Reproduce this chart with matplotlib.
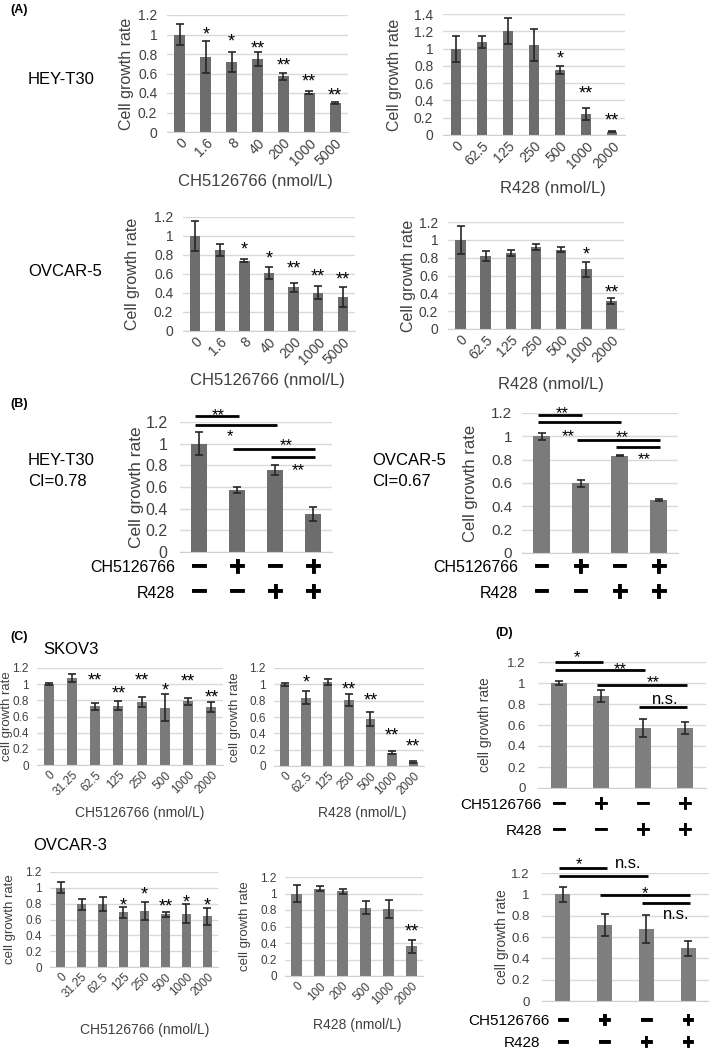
import numpy as np
import matplotlib
matplotlib.use('Agg')
import matplotlib.pyplot as plt
import matplotlib.patheffects as pe
from matplotlib.transforms import blended_transform_factory

plt.rcParams['font.family'] = ['Liberation Sans', 'DejaVu Sans']

W, H = 709, 1054
TXT = '#404040'

# ---- (A) single drug dose response ----
ch_doses_a = ['0', '1.6', '8', '40', '200', '1000', '5000']
r428_doses_a = ['0', '62.5', '125', '250', '500', '1000', '2000']

hey_ch_mean = [1.00, 0.77, 0.72, 0.75, 0.57, 0.405, 0.30]
hey_ch_err = [0.11, 0.165, 0.10, 0.07, 0.033, 0.015, 0.01]
hey_ch_sig = ['', '*', '*', '**', '**', '**', '**']

hey_r428_mean = [1.00, 1.08, 1.20, 1.04, 0.75, 0.24, 0.04]
hey_r428_err = [0.15, 0.07, 0.15, 0.185, 0.047, 0.072, 0.01]
hey_r428_sig = ['', '', '', '', '*', '**', '**']

ov5_ch_mean = [1.00, 0.85, 0.74, 0.61, 0.46, 0.405, 0.355]
ov5_ch_err = [0.155, 0.065, 0.015, 0.06, 0.045, 0.073, 0.105]
ov5_ch_sig = ['', '', '*', '*', '**', '**', '**']

ov5_r428_mean = [1.00, 0.82, 0.853, 0.924, 0.89, 0.67, 0.313]
ov5_r428_err = [0.16, 0.06, 0.03, 0.034, 0.03, 0.085, 0.035]
ov5_r428_sig = ['', '', '', '', '', '*', '**']

# ---- (B) combination ----
combo_ch = ['\u2212', '+', '\u2212', '+']
combo_r428 = ['\u2212', '\u2212', '+', '+']
combo_pairs = [(0, 1), (0, 2), (1, 3), (2, 3)]

hey_combo_mean = [1.00, 0.572, 0.756, 0.352]
hey_combo_err = [0.107, 0.03, 0.046, 0.065]
hey_combo_sig = ['**', '*', '**', '**']

ov5_combo_mean = [1.00, 0.60, 0.834, 0.457]
ov5_combo_err = [0.03, 0.03, 0.005, 0.01]
ov5_combo_sig = ['**', '**', '**', '**']

# ---- (C) SKOV3 / OVCAR-3 dose response ----
ch_doses_c = ['0', '31.25', '62.5', '125', '250', '500', '1000', '2000']
r428_doses_c = ['0', '62.5', '125', '250', '500', '1000', '2000']
r428_doses_c3 = ['0', '100', '200', '500', '1000', '2000']

skov3_ch_mean = [1.00, 1.076, 0.724, 0.732, 0.78, 0.71, 0.786, 0.716]
skov3_ch_err = [0.015, 0.045, 0.04, 0.055, 0.062, 0.165, 0.04, 0.06]
skov3_ch_sig = ['', '', '**', '**', '**', '*', '**', '**']

skov3_r428_mean = [1.00, 0.838, 1.03, 0.81, 0.571, 0.164, 0.05]
skov3_r428_err = [0.015, 0.08, 0.035, 0.072, 0.085, 0.015, 0.008]
skov3_r428_sig = ['', '*', '', '**', '**', '**', '**']

ov3_ch_mean = [1.00, 0.79, 0.80, 0.69, 0.71, 0.665, 0.67, 0.64]
ov3_ch_err = [0.07, 0.07, 0.09, 0.07, 0.11, 0.03, 0.12, 0.11]
ov3_ch_sig = ['', '', '', '*', '*', '**', '*', '*']

ov3_r428_mean = [1.00, 1.06, 1.03, 0.83, 0.81, 0.36]
ov3_r428_err = [0.10, 0.035, 0.03, 0.08, 0.11, 0.08]
ov3_r428_sig = ['', '', '', '', '', '**']

# ---- (D) combination ----
skov3_combo_mean = [1.00, 0.875, 0.575, 0.57]
skov3_combo_err = [0.015, 0.06, 0.085, 0.06]
skov3_combo_sig = ['*', '**', '**', 'n.s.']

ov3_combo_mean = [1.00, 0.71, 0.675, 0.495]
ov3_combo_err = [0.07, 0.105, 0.135, 0.07]
ov3_combo_sig = ['*', 'n.s.', '*', 'n.s.']

# annotation placement (data units)
hey_ch_star_y = [None, 1.06, 0.98, 0.915, 0.74, 0.57, 0.435]
hey_r428_star_y = [None, None, None, None, 0.945, 0.54, 0.23]
ov5_ch_star_y = [None, None, 0.92, 0.82, 0.715, 0.634, 0.60]
ov5_r428_star_y = [None, None, None, None, None, 0.90, 0.466]
skov3_ch_star_y = [None, None, 1.117, 0.95, 1.117, 0.99, 1.10, 0.90]
skov3_r428_star_y = [None, 1.09, None, 1.007, 0.87, 0.44, 0.30]
ov3_ch_star_y = [None, None, None, 0.85, 0.985, 0.83, 0.884, 0.84]
ov3_r428_star_y = [None, None, None, None, None, 0.60]

hey_combo_line_y = [1.255, 1.175, 0.955, 0.88]
hey_combo_text_xy = [(0.5, 1.31), (0.82, 1.11), (2.3, 1.03), (2.6, 0.80)]
ov5_combo_line_y = [1.183, 1.12, 0.971, 0.91]
ov5_combo_text_xy = [(0.53, 1.243), (0.68, 1.043), (2.06, 1.03), (2.63, 0.843)]
skov3_combo_line_y = [1.197, 1.127, 0.978, 0.768]
skov3_combo_text_xy = [(0.43, 1.295), (1.45, 1.18), (2.24, 1.057), (2.52, 0.84)]
ov3_combo_line_y = [1.243, 1.174, 0.99, 0.92]
ov3_combo_text_xy = [(0.39, 1.33), (1.56, 1.293), (1.97, 1.054), (2.71, 0.81)]

fig = plt.figure(figsize=(W / 100, H / 100), dpi=100)


def fig_text(x, y, s, **kw):
    kw.setdefault('va', 'center')
    fig.text(x / W, 1 - y / H, s, **kw)


def bar_panel(rect, means, errs, ymax=1.2, color='#6d6d6d', width=0.42,
              tick_fs=10, ylab='Cell growth rate', ylab_x=0, ylab_fs=11.5,
              ypad=7):
    l, t, r, b = rect
    ax = fig.add_axes([l / W, 1 - b / H, (r - l) / W, (b - t) / H])
    x = np.arange(len(means))
    ax.bar(x, means, width, color=color, zorder=2)
    ax.errorbar(x, means, yerr=errs, fmt='none', ecolor='#262626',
                elinewidth=1.2, capsize=3, capthick=1.2, zorder=3)
    ax.set_xlim(-0.5, len(means) - 0.5)
    ax.set_ylim(0, ymax)
    ticks = np.round(np.arange(0, ymax + 0.001, 0.2), 1)
    ax.set_yticks(ticks)
    ax.set_yticklabels([f'{v:g}' for v in ticks])
    ax.yaxis.grid(True, color='#d9d9d9', lw=1)
    ax.set_axisbelow(True)
    for s in ('top', 'right', 'left'):
        ax.spines[s].set_visible(False)
    ax.spines['bottom'].set_color('#d0d0d0')
    ax.tick_params(length=0, labelsize=tick_fs, labelcolor=TXT)
    ax.tick_params(axis='y', pad=ypad)
    ax.set_ylabel(ylab, fontsize=ylab_fs, color=TXT, va='center')
    ax.yaxis.set_label_coords(ylab_x / W, 1 - (t + b) / 2 / H,
                              transform=fig.transFigure)
    return ax


def dose_axis(ax, labels, xlab, xy, tick_fs, xlab_fs, pad=3):
    ax.set_xticks(np.arange(len(labels)))
    ax.set_xticklabels(labels, rotation=45, ha='right',
                       rotation_mode='anchor', fontsize=tick_fs)
    ax.tick_params(axis='x', pad=pad)
    ax.set_xlabel(xlab, fontsize=xlab_fs, color=TXT, va='center')
    ax.xaxis.set_label_coords(xy[0] / W, 1 - xy[1] / H,
                              transform=fig.transFigure)


def put_mark(ax, x, y, s, fs):
    if s.strip('*') == '':
        ax.annotate(s, (x, y), xytext=(0, -0.58 * fs), textcoords='offset points',
                    ha='center', va='baseline', fontsize=fs,
                    annotation_clip=False)
    else:
        ax.text(x, y, s, ha='center', va='center', fontsize=fs, clip_on=False)


def stars(ax, labels, ys, fs):
    for i, (s, y) in enumerate(zip(labels, ys)):
        if s:
            put_mark(ax, i, y, s, fs)


def brackets(ax, labels, line_y, text_xy, fs, lw=2):
    for (i, j), y in zip(combo_pairs, line_y):
        ax.plot([i - 0.1, j + 0.05], [y, y], color='black', lw=lw,
                clip_on=False, solid_capstyle='butt')
    for s, (tx, ty) in zip(labels, text_xy):
        put_mark(ax, tx, ty, s, fs)


def sign_rows(ax, y_ch, y_r, right_ch, right_r, lab_fs, sign_fs):
    ax.set_xticks([])
    tr = blended_transform_factory(ax.transData, fig.transFigure)
    thick = [pe.withStroke(linewidth=0.6, foreground='black')]
    for row, y in ((combo_ch, y_ch), (combo_r428, y_r)):
        for i, s in enumerate(row):
            ax.text(i, 1 - y / H, s, transform=tr, ha='center', va='center',
                    fontsize=sign_fs, fontweight='bold', path_effects=thick)
    fig_text(right_ch, y_ch, 'CH5126766', ha='right', fontsize=lab_fs)
    fig_text(right_r, y_r, 'R428', ha='right', fontsize=lab_fs)


# (A)
ax = bar_panel((167, 15, 348, 132), hey_ch_mean, hey_ch_err, ylab_x=127)
dose_axis(ax, ch_doses_a, 'CH5126766 (nmol/L)', (255, 182), 10, 12)
stars(ax, hey_ch_sig, hey_ch_star_y, 13)

ax = bar_panel((443, 14, 625, 135), hey_r428_mean, hey_r428_err, ymax=1.4,
               ylab_x=395)
dose_axis(ax, r428_doses_a, 'R428 (nmol/L)', (553, 188), 10, 12)
stars(ax, hey_r428_sig, hey_r428_star_y, 13)

ax = bar_panel((183, 217, 355, 331), ov5_ch_mean, ov5_ch_err, ylab_x=133)
dose_axis(ax, ch_doses_a, 'CH5126766 (nmol/L)', (267, 380), 10, 12)
stars(ax, ov5_ch_sig, ov5_ch_star_y, 13)

ax = bar_panel((448, 222, 624, 329), ov5_r428_mean, ov5_r428_err, ylab_x=408)
dose_axis(ax, r428_doses_a, 'R428 (nmol/L)', (551, 385), 10, 12)
stars(ax, ov5_r428_sig, ov5_r428_star_y, 13)

# (B)
ax = bar_panel((180, 422, 332, 552), hey_combo_mean, hey_combo_err,
               tick_fs=11.5, ylab_x=137, ylab_fs=12.5, ypad=9)
sign_rows(ax, 568, 593, 175, 175, 11.5, 20)
brackets(ax, hey_combo_sig, hey_combo_line_y, hey_combo_text_xy, 12)

ax = bar_panel((522, 413, 678, 553), ov5_combo_mean, ov5_combo_err,
               color='#7b7b7b', tick_fs=11, ylab_x=470, ylab_fs=12)
sign_rows(ax, 568, 593, 518, 518, 11.5, 20)
brackets(ax, ov5_combo_sig, ov5_combo_line_y, ov5_combo_text_xy, 12)

# (C)
c_kw = dict(color='#7a7a7a', width=0.44, tick_fs=8.5,
            ylab='cell growth rate', ylab_fs=9.5, ypad=6)
ax = bar_panel((37, 668, 223, 765), skov3_ch_mean, skov3_ch_err, ylab_x=7, **c_kw)
dose_axis(ax, ch_doses_c, 'CH5126766 (nmol/L)', (140, 813), 8.5, 10)
stars(ax, skov3_ch_sig, skov3_ch_star_y, 13)

ax = bar_panel((274, 668, 424, 766), skov3_r428_mean, skov3_r428_err,
               ylab_x=235, **c_kw)
dose_axis(ax, r428_doses_c, 'R428 (nmol/L)', (362, 813), 8.5, 10)
stars(ax, skov3_r428_sig, skov3_r428_star_y, 13)

ax = bar_panel((50, 872, 218, 967), ov3_ch_mean, ov3_ch_err, ylab_x=10, **c_kw)
dose_axis(ax, ch_doses_c, 'CH5126766 (nmol/L)', (145, 1030), 8.5, 10)
stars(ax, ov3_ch_sig, ov3_ch_star_y, 13)

ax = bar_panel((285, 877, 423, 976), ov3_r428_mean, ov3_r428_err,
               ylab_x=245, **c_kw)
dose_axis(ax, r428_doses_c3, 'R428 (nmol/L)', (357, 1025), 8.5, 10)
stars(ax, ov3_r428_sig, ov3_r428_star_y, 13)

# (D)
d_kw = dict(color='#7f7f7f', width=0.36, tick_fs=9.5,
            ylab='cell growth rate', ylab_fs=10, ypad=9)
ax = bar_panel((538, 662, 706, 788), skov3_combo_mean, skov3_combo_err,
               ylab_x=485, **d_kw)
sign_rows(ax, 805, 831, 542, 542, 11, 16)
brackets(ax, skov3_combo_sig, skov3_combo_line_y, skov3_combo_text_xy, 12)

ax = bar_panel((542, 873, 709, 1001), ov3_combo_mean, ov3_combo_err,
               ylab_x=502, **d_kw)
sign_rows(ax, 1021, 1043, 550, 540, 11, 15)
brackets(ax, ov3_combo_sig, ov3_combo_line_y, ov3_combo_text_xy, 12)

# cell line names and panel letters
fig_text(28, 80, 'HEY-T30', fontsize=12)
fig_text(28, 272, 'OVCAR-5', fontsize=12)
fig_text(28, 460, 'HEY-T30', fontsize=12)
fig_text(28, 481, 'CI=0.78', fontsize=12)
fig_text(372, 460, 'OVCAR-5', fontsize=12)
fig_text(372, 482, 'CI=0.67', fontsize=12)
fig_text(43, 650, 'SKOV3', fontsize=12)
fig_text(33, 846, 'OVCAR-3', fontsize=12)
for x, y, s in ((10, 10, '(A)'), (10, 404, '(B)'), (10, 637, '(C)'),
                (495, 633, '(D)')):
    fig_text(x, y, s, fontsize=9, fontweight='bold')

fig.savefig('out.png', dpi=100)
